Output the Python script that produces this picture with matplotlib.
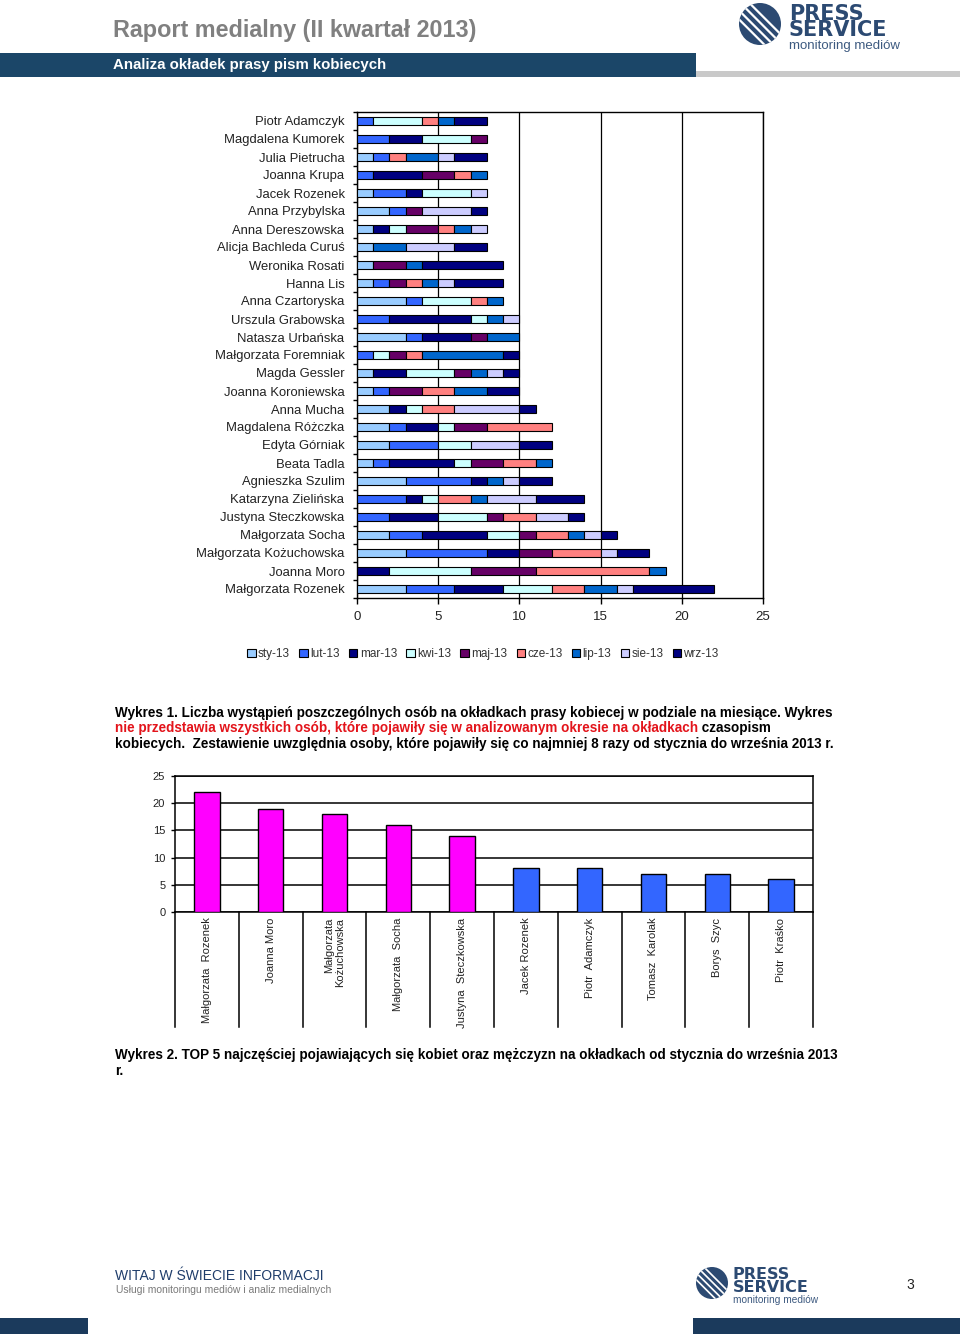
import matplotlib
matplotlib.use('Agg')
import matplotlib.pyplot as plt
import numpy as np
from matplotlib.patches import Rectangle, Circle
from matplotlib.transforms import Affine2D, blended_transform_factory
from matplotlib.text import Annotation
from matplotlib.lines import Line2D

W, H = 960, 1334
plt.rcParams['font.family'] = ['Liberation Sans', 'DejaVu Sans']

# ---------------- data: chart 1 (top to bottom) ----------------
names = ['Piotr Adamczyk', 'Magdalena Kumorek', 'Julia Pietrucha', 'Joanna Krupa',
         'Jacek Rozenek', 'Anna Przybylska', 'Anna Dereszowska', 'Alicja Bachleda Curuś',
         'Weronika Rosati', 'Hanna Lis', 'Anna Czartoryska', 'Urszula Grabowska',
         'Natasza Urbańska', 'Małgorzata Foremniak', 'Magda Gessler', 'Joanna Koroniewska',
         'Anna Mucha', 'Magdalena Różczka', 'Edyta Górniak', 'Beata Tadla',
         'Agnieszka Szulim', 'Katarzyna Zielińska', 'Justyna Steczkowska', 'Małgorzata Socha',
         'Małgorzata Kożuchowska', 'Joanna Moro', 'Małgorzata Rozenek']
months = ['sty-13', 'lut-13', 'mar-13', 'kwi-13', 'maj-13', 'cze-13', 'lip-13', 'sie-13', 'wrz-13']
sty = [0, 0, 1, 0, 1, 2, 1, 1, 1, 1, 3, 0, 3, 0, 1, 1, 2, 2, 2, 1, 3, 0, 0, 2, 3, 0, 3]
lut = [1, 2, 1, 1, 2, 1, 0, 0, 0, 1, 1, 2, 1, 1, 0, 1, 0, 1, 3, 1, 4, 3, 2, 2, 5, 0, 3]
mar = [0, 2, 0, 3, 1, 0, 1, 0, 0, 0, 0, 5, 3, 0, 2, 0, 1, 2, 0, 4, 1, 1, 3, 4, 2, 2, 3]
kwi = [3, 3, 0, 0, 3, 0, 1, 0, 0, 0, 3, 1, 0, 1, 3, 0, 1, 1, 2, 1, 0, 1, 3, 2, 0, 5, 3]
maj = [0, 1, 0, 2, 0, 1, 2, 0, 2, 1, 0, 0, 1, 1, 1, 2, 0, 2, 0, 2, 0, 0, 1, 1, 2, 4, 0]
cze = [1, 0, 1, 1, 0, 0, 1, 0, 0, 1, 1, 0, 0, 1, 0, 2, 2, 4, 0, 2, 0, 2, 2, 2, 3, 7, 2]
lip = [1, 0, 2, 1, 0, 0, 1, 2, 1, 1, 1, 1, 2, 5, 1, 2, 0, 0, 0, 1, 1, 1, 0, 1, 0, 1, 2]
sie = [0, 0, 1, 0, 1, 3, 1, 3, 0, 1, 0, 1, 0, 0, 1, 0, 4, 0, 3, 0, 1, 3, 2, 1, 1, 0, 1]
wrz = [2, 0, 2, 0, 0, 1, 0, 2, 5, 3, 0, 0, 0, 1, 1, 2, 1, 0, 2, 0, 2, 3, 1, 1, 2, 0, 5]
series = [sty, lut, mar, kwi, maj, cze, lip, sie, wrz]
month_colors = ['#99ccff', '#3366ff', '#000080', '#ccffff', '#660066',
                '#ff8080', '#0066cc', '#ccccff', '#000080']

# ---------------- data: chart 2 ----------------
top_names = ['Małgorzata  Rozenek', 'Joanna Moro', 'Małgorzata\nKożuchowska', 'Małgorzata  Socha',
             'Justyna  Steczkowska', 'Jacek Rozenek', 'Piotr  Adamczyk', 'Tomasz  Karolak',
             'Borys  Szyc', 'Piotr  Kraśko']
top_values = [22, 19, 18, 16, 14, 8, 8, 7, 7, 6]
top_gender = ['K', 'K', 'K', 'K', 'K', 'M', 'M', 'M', 'M', 'M']
gender_colors = {'K': '#ff00ff', 'M': '#3366ff'}

fig = plt.figure(figsize=(W / 100, H / 100), dpi=100)
fig.patch.set_facecolor('white')
px = Affine2D().scale(1 / W, 1 / H) + fig.transFigure


def fy(y):
    return 1 - y / H


def rect(x0, y0, x1, y1, color):
    r = Rectangle((x0, H - y1), x1 - x0, y1 - y0, transform=px, color=color, lw=0)
    fig.add_artist(r)


# ---------------- header ----------------
fig.text(113 / W, fy(31), 'Raport medialny (II kwartał 2013)', fontsize=16.8, weight='bold',
         color='#808080', va='center', ha='left')
rect(0, 53, 696, 77, '#1b4668')
rect(696, 71, 960, 77, '#c9c9c9')
fig.text(113 / W, fy(65), 'Analiza okładek prasy pism kobiecych', fontsize=10.8, weight='bold',
         color='white', va='center', ha='left')


def logo(cx, cy, r, tx, s):
    navy = '#2c4a72'
    c = Circle((cx, H - cy), r, transform=px, color=navy, lw=0)
    fig.add_artist(c)
    for off in [-0.55, -0.25, 0.05, 0.35]:
        ox, oy = cx + off * r * 0.707, (H - cy) + off * r * 0.707
        ln = Line2D([ox - r * 1.2, ox + r * 1.2], [oy + r * 1.2, oy - r * 1.2],
                    transform=px, color='white', lw=1.6 * s)
        ln.set_clip_path(c)
        fig.add_artist(ln)
    fig.text(tx / W, fy(cy - 20.5 * s), 'PRESS\nSERVICE', fontsize=15 * s, weight='bold', color=navy,
             family=['DejaVu Sans'], va='top', ha='left', linespacing=0.8)
    fig.text(tx / W, fy(cy + 15.5 * s), 'monitoring mediów', fontsize=9.5 * s, color='#3d5a80',
             va='top', ha='left')


logo(760, 24, 21, 789, 1.0)
logo(712, 1283, 16, 733, 0.77)

# ---------------- chart 1 ----------------
ax1 = fig.add_axes([357 / W, 1 - 598 / H, 406 / W, 486 / H])
yy = np.arange(len(names))
left = np.zeros(len(names))
handles = []
for vals, lab, col in zip(series, months, month_colors):
    v = np.array(vals, dtype=float)
    m = v > 0
    bc = ax1.barh(yy[m], v[m], left=left[m], height=0.44, color=col,
                  edgecolor='black', linewidth=0.8, label=lab, zorder=3)
    handles.append(bc)
    left += v
ax1.set_xlim(0, 25)
ax1.set_ylim(len(names) - 0.5, -0.5)
ax1.set_xticks(range(0, 26, 5))
ax1.set_xticklabels([str(t) for t in range(0, 26, 5)], fontsize=9.5, color='#222222')
ax1.set_yticks(yy)
ax1.set_yticklabels(names, fontsize=9.4, color='#222222')
ax1.set_yticks(np.arange(-0.5, len(names)), minor=True)
ax1.tick_params(axis='y', which='major', length=0, pad=9)
ax1.tick_params(axis='y', which='minor', length=3, width=1, direction='out')
ax1.tick_params(axis='x', length=4, width=1, direction='out', pad=5)
ax1.grid(axis='x', color='black', lw=0.9)
ax1.set_axisbelow(True)
for sp in ax1.spines.values():
    sp.set_color('black')
    sp.set_linewidth(1)

fig.legend(handles, months, loc='center', bbox_to_anchor=(483 / W, fy(654)), ncol=9,
           frameon=False, fontsize=8.5, handlelength=0.7, handleheight=0.7,
           handletextpad=0.2, columnspacing=0.8, labelcolor='#333333')

# ---------------- captions ----------------
cap_kw = dict(fontsize=9.75, weight='bold', va='center', ha='left')
fig.text(115 / W, fy(713), 'Wykres 1. Liczba wystąpień poszczególnych osób na okładkach prasy '
         'kobiecej w podziale na miesiące. Wykres', color='black', **cap_kw)
t_red = fig.text(115 / W, fy(728), 'nie przedstawia wszystkich osób, które pojawiły się w '
                 'analizowanym okresie na okładkach', color='#e3141b', **cap_kw)
ann = Annotation(' czasopism', xy=(1, 0), xycoords=t_red, fontsize=9.75, weight='bold',
                 va='bottom', ha='left', color='black')
fig.add_artist(ann)
fig.text(115 / W, fy(744), 'kobiecych.  Zestawienie uwzględnia osoby, które pojawiły się co '
         'najmniej 8 razy od stycznia do września 2013 r.', color='black', **cap_kw)
fig.text(115 / W, fy(1055), 'Wykres 2. TOP 5 najczęściej pojawiających się kobiet oraz mężczyzn '
         'na okładkach od stycznia do września 2013', color='black', **cap_kw)
fig.text(115 / W, fy(1071), 'r.', color='black', **cap_kw)

# ---------------- chart 2 ----------------
ax2 = fig.add_axes([175 / W, 1 - 912 / H, 638 / W, 136 / H])
x2 = np.arange(len(top_names))
ax2.bar(x2, top_values, width=0.4, color=[gender_colors[g] for g in top_gender],
        edgecolor='black', linewidth=1, zorder=3)
ax2.set_xlim(-0.5, len(top_names) - 0.5)
ax2.set_ylim(0, 25)
ax2.set_yticks(range(0, 26, 5))
ax2.set_yticklabels([str(t) for t in range(0, 26, 5)], fontsize=8, color='#222222')
ax2.tick_params(axis='y', length=3, width=1, pad=4)
ax2.grid(axis='y', color='black', lw=1.1)
ax2.set_axisbelow(True)
ax2.set_xticks(x2)
ax2.set_xticklabels(top_names, rotation=90, fontsize=8, va='top', ha='center',
                    multialignment='right', color='#222222')
ax2.tick_params(axis='x', length=0, pad=4)
for sp in ax2.spines.values():
    sp.set_color('black')
    sp.set_linewidth(1.1)
trans = blended_transform_factory(ax2.transData, ax2.transAxes)
low = -115 / 136
for b in np.arange(-0.5, len(top_names)):
    ax2.plot([b, b], [0, low], transform=trans, color='black', lw=1.1, clip_on=False)

# ---------------- footer ----------------
fig.text(115 / W, fy(1276), 'WITAJ W ŚWIECIE INFORMACJI', fontsize=10,
         color='#1f3d6b', va='center', ha='left')
fig.text(116 / W, fy(1290), 'Usługi monitoringu mediów i analiz medialnych', fontsize=7.5,
         color='#7a7a7a', va='center', ha='left')
fig.text(910 / W, fy(1285), '3', fontsize=10, color='#222222', va='center', ha='center')
rect(0, 1318, 88, 1334, '#1b3a5c')
rect(693, 1318, 960, 1334, '#1b3a5c')

fig.savefig('out.png', dpi=100)
